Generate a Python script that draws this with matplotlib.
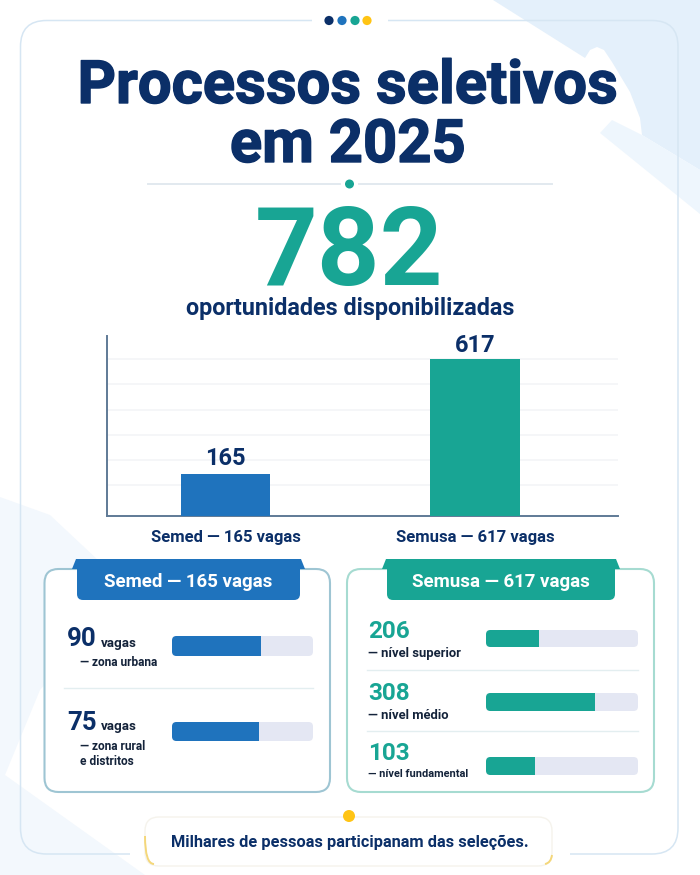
import matplotlib
matplotlib.use('Agg')
import matplotlib.pyplot as plt
import matplotlib.patheffects as pe
from matplotlib.patches import FancyBboxPatch, Polygon, Circle, PathPatch, Rectangle
from matplotlib.path import Path

plt.rcParams['font.family'] = ['Roboto', 'DejaVu Sans']
plt.rcParams['font.weight'] = 'bold'

NAVY = '#0B2F68'
BLUE = '#1F73BD'
TEAL = '#18A594'
YELLOW = '#FFC414'
TRACK = '#E4E7F3'
INK = '#14233A'

# main chart
categories = ['Semed — 165 vagas', 'Semusa — 617 vagas']
totals = [165, 617]
bar_colors = [BLUE, TEAL]
grid_values = [122, 220, 318, 417, 518, 617]

# panels (fill = share of the track as drawn in the picture)
semed_values = ['90', '75']
semed_fill = [0.63, 0.62]
semed_labels = ['— zona urbana', '— zona rural\ne distritos']
semusa_values = ['206', '308', '103']
semusa_fill = [0.35, 0.715, 0.32]
semusa_labels = ['— nível superior', '— nível médio', '— nível fundamental']

fig = plt.figure(figsize=(7, 8.75), dpi=100, facecolor='white')
bg = fig.add_axes([0, 0, 1, 1], zorder=0)
bg.set_xlim(0, 700)
bg.set_ylim(875, 0)
bg.axis('off')

def px_axes(x0, y0, x1, y1, z=2):
    a = fig.add_axes([x0 / 700, 1 - y1 / 875, (x1 - x0) / 700, (y1 - y0) / 875], zorder=z)
    a.patch.set_alpha(0)
    return a

def rbox(x0, y0, x1, y1, r, **kw):
    return FancyBboxPatch((x0 + r, y0 + r), x1 - x0 - 2 * r, y1 - y0 - 2 * r,
                          boxstyle='round,pad=%g,rounding_size=%g' % (r, r), **kw)

# background shapes
bg.add_patch(Polygon([(493, 0), (700, 0), (700, 170), (642, 135), (640, 118), (630, 92), (612, 62), (604, 50),
                      (597, 47), (590, 50), (585, 58)], fc='#E4F0FB', ec='none'))
bg.add_patch(Polygon([(600, 133), (612, 120), (642, 135), (700, 170), (700, 214)], fc='#EEF6FD', ec='none'))
bg.add_patch(Polygon([(0, 497), (50, 515), (130, 590), (40, 690), (5, 775), (145, 875), (0, 875)],
                     fc='#F3F8FD', ec='none'))

# outer frame with gaps at the dots and the footer
bg.add_patch(rbox(20.5, 20.5, 678, 854, 26, fc='none', ec='#D6E6F3', lw=1.1))
bg.add_patch(Rectangle((312, 17), 76, 7, fc='white', ec='none'))
bg.add_patch(Rectangle((130, 850), 440, 8, fc='white', ec='none'))

for x, c in zip([329, 342, 355, 367], [NAVY, BLUE, TEAL, YELLOW]):
    bg.add_patch(Circle((x, 20.5), 4.6, fc=c, ec='none'))

# title block
heavy = [pe.withStroke(linewidth=1.0, foreground=NAVY)]
bg.text(348, 103, 'Processos seletivos', ha='center', va='baseline', fontsize=43, color=NAVY, path_effects=heavy)
bg.text(348, 162, 'em 2025', ha='center', va='baseline', fontsize=43, color=NAVY, path_effects=heavy)
bg.plot([148, 340], [184, 184], color='#E2E9EF', lw=1.4)
bg.plot([359, 552], [184, 184], color='#E2E9EF', lw=1.4)
bg.add_patch(Circle((349.5, 184), 4.5, fc=TEAL, ec='none'))
bg.text(349, 285, '782', ha='center', va='baseline', fontsize=79, color=TEAL)
bg.text(350, 306, 'oportunidades disponibilizadas', ha='center', va='center_baseline', fontsize=16.8, color=NAVY)

# bar chart
ax = px_axes(107, 336, 618, 516, z=1)
ax.bar([0, 1], totals, width=0.357, color=bar_colors, zorder=3)
ax.set_xlim(-0.475, 1.573)
ax.set_ylim(0, 707)
ax.set_yticks(grid_values)
ax.set_yticklabels([])
ax.tick_params(axis='y', length=0)
ax.grid(axis='y', color='#F2F4F7', lw=1.1)
ax.set_axisbelow(True)
ax.set_xticks([0, 1])
ax.set_xticklabels(categories, fontsize=12, color=NAVY)
ax.tick_params(axis='x', length=0, pad=10)
for s in ['top', 'right']:
    ax.spines[s].set_visible(False)
for s in ['left', 'bottom']:
    ax.spines[s].set_color('#5F7A96')
    ax.spines[s].set_linewidth(1.4)
for i, (v, off) in enumerate(zip(totals, [17, 9])):
    ax.text(i, v + off, str(v), ha='center', va='bottom', fontsize=17, color=NAVY)

# panels
def panel(x0, x1, tab0, tab1, color, edge, title):
    bg.add_patch(rbox(x0, 569, x1, 792, 14, fc='white', ec=edge, lw=1.5))
    bg.add_patch(Polygon([(tab0 - 5, 569), (tab0 - 1, 559), (tab1 + 1, 559), (tab1 + 5, 569)], fc=color, ec='none', zorder=3))
    bg.add_patch(rbox(tab0, 562, tab1, 600, 6, fc=color, ec='none', zorder=3))
    bg.text((tab0 + tab1) / 2, 580, title, ha='center', va='center_baseline', fontsize=13.5, color='white', zorder=4)

panel(44.5, 330, 77, 300, BLUE, '#9EC5D3', categories[0])
panel(347, 654, 387, 615, TEAL, '#A6DBD1', categories[1])

def progress(x0, x1, y0, y1, fill, color):
    a = px_axes(x0, y0, x1, y1)
    a.set_xlim(0, 1)
    a.set_ylim(-0.5, 0.5)
    a.axis('off')
    clip = rbox(x0, y0, x1, y1, 4.5, transform=bg.transData)
    for b in a.barh([0], [1], height=1, color=TRACK):
        b.set_clip_path(clip)
    for b in a.barh([0], [fill], height=1, color=color):
        b.set_clip_path(clip)

# Semed rows
for val, label, fill, vy, ly, by in zip(semed_values, semed_labels, semed_fill, [637, 720], [662, 754], [(636, 656), (722, 741)]):
    bg.text(67, vy, val, ha='left', va='center_baseline', fontsize=18.5, color=NAVY)
    bg.text(101, vy + 5, 'vagas', ha='left', va='center_baseline', fontsize=9.6, color=INK)
    bg.text(80, ly, label, ha='left', va='center', fontsize=8.6, color=INK, linespacing=1.15)
    progress(172, 313, by[0], by[1], fill, BLUE)
bg.plot([64, 313], [688, 688], color='#E3EEF0', lw=1)

# Semusa rows
for val, label, fill, vy, ly, by, fs in zip(semusa_values, semusa_labels, semusa_fill, [629, 691, 751], [652, 714, 773],
                                            [(630, 647), (693, 711), (757, 775)], [9.4, 9.4, 7.9]):
    bg.text(368, vy, val, ha='left', va='center_baseline', fontsize=17.5, color=TEAL)
    bg.text(368, ly, label, ha='left', va='center_baseline', fontsize=fs, color=INK)
    progress(486, 638, by[0], by[1], fill, TEAL)
for y in [669.5, 730.5]:
    bg.plot([367, 638], [y, y], color='#E3EEF0', lw=1)

# footer
bg.add_patch(rbox(145, 817, 552, 866, 14, fc='white', ec='#F5F3EC', lw=1, zorder=3))
for verts in ([(145, 836), (145, 864), (154, 864)], [(552, 855), (551, 863), (545, 864)]):
    bg.add_patch(PathPatch(Path(verts, [Path.MOVETO, Path.CURVE3, Path.CURVE3]), fc='none', ec='#F4D77A', lw=1.4, zorder=4))
bg.add_patch(Circle((349, 816), 6, fc=YELLOW, ec='none', zorder=5))
bg.text(349.5, 841, 'Milhares de pessoas participanam das seleções.', ha='center', va='center_baseline',
        fontsize=11.75, color=NAVY, zorder=5)

fig.savefig('out.png', dpi=100)
